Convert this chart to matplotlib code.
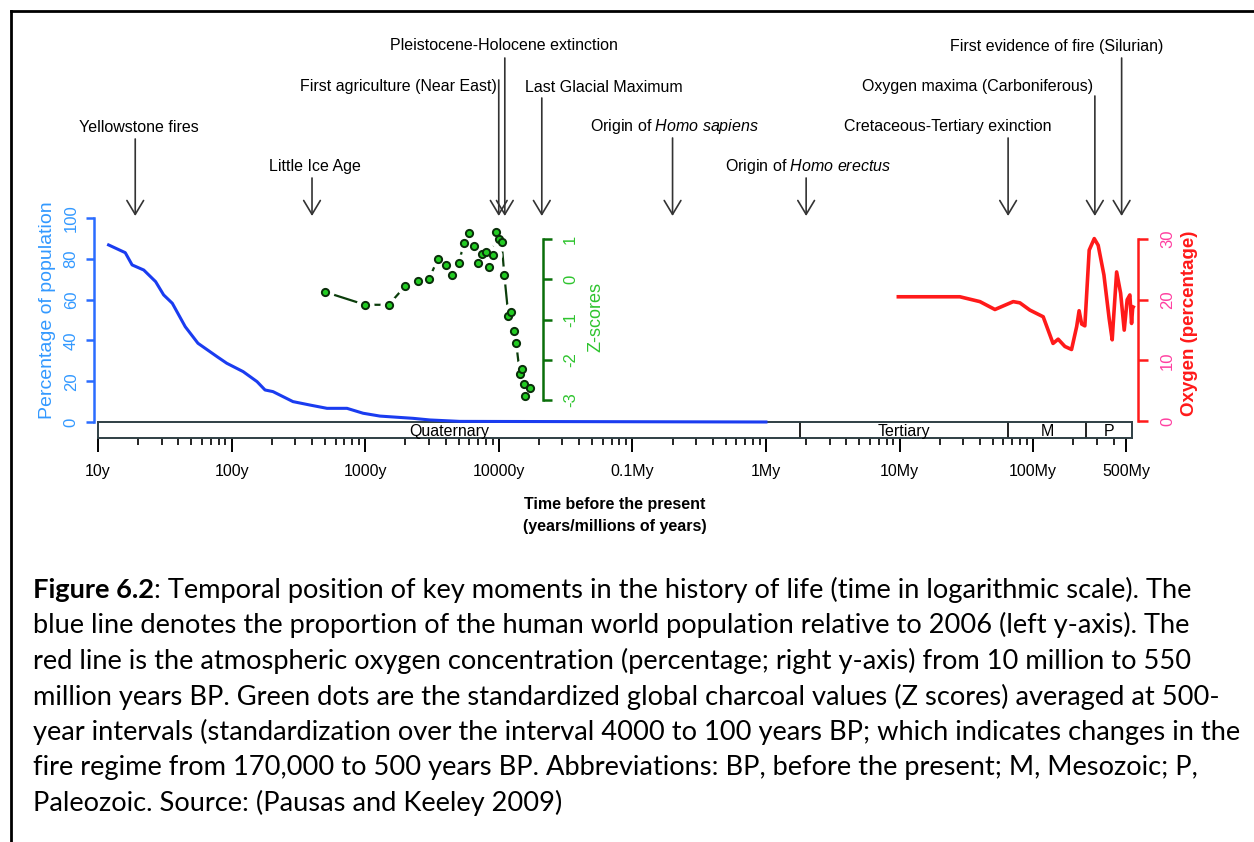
import numpy as np
import matplotlib
matplotlib.use('Agg')
import matplotlib.pyplot as plt
from matplotlib.lines import Line2D
from matplotlib.ticker import FixedLocator, NullFormatter

plt.rcParams['font.family'] = ['Liberation Sans', 'DejaVu Sans']
plt.rcParams['mathtext.fontset'] = 'custom'
plt.rcParams['mathtext.rm'] = 'Liberation Sans'
plt.rcParams['mathtext.it'] = 'Liberation Sans:italic'
plt.rcParams['mathtext.bf'] = 'Liberation Sans:bold'
plt.rcParams['axes.unicode_minus'] = False

# ---------------- data ----------------
pop_years = [12, 16, 18, 22, 27, 31, 36, 45, 56, 78, 92, 122, 155, 178, 204,
             288, 387, 518, 731, 964, 1290, 2280, 3050, 5100, 1e6]
pop_pct = [86.8, 83, 77, 74.5, 68.8, 62.3, 58.2, 46.7, 38.6, 32, 28.8, 24.7,
           19.8, 15.7, 14.9, 10, 8.3, 6.7, 6.7, 4.3, 2.9, 1.8, 1.0, 0.3, 0]

char_years = [500, 1000, 1500, 2000, 2500, 3000, 3500, 4000, 4500, 5000, 5500,
              6000, 6500, 7000, 7500, 8000, 8500, 9000, 9500, 10000, 10500,
              11000, 11800, 12300, 13000, 13500, 14400, 14800, 15500, 15700, 17100]
char_z = [-0.31, -0.63, -0.63, -0.16, -0.03, 0.01, 0.51, 0.35, 0.12, 0.40, 0.90,
          1.15, 0.84, 0.40, 0.63, 0.69, 0.32, 0.61, 1.18, 1.01, 0.93,
          0.12, -0.90, -0.82, -1.28, -1.58, -2.36, -2.24, -2.61, -2.90, -2.69]

ox_my = [9.8, 28.3, 40, 51.8, 71, 79.6, 94.6, 119, 141, 154, 173, 194, 212, 221,
         231, 244, 263, 287, 307, 339, 371, 391, 398, 422, 452, 481, 506, 530,
         546, 556, 562]
ox_pct = [20.5, 20.5, 19.7, 18.4, 19.7, 19.5, 18.3, 17.2, 12.8, 13.5, 12.3, 11.8,
          15.6, 18.2, 16.0, 15.7, 28.2, 30.1, 29.0, 24.1, 16.9, 13.4, 16.1, 24.6,
          21.1, 15.0, 20.0, 20.8, 16.1, 18.6, 18.8]

ev_names = ["Yellowstone fires", "Little Ice Age", "First agriculture (Near East)",
            "Pleistocene-Holocene extinction", "Last Glacial Maximum",
            "Origin of $\\it{Homo\\ sapiens}$", "Origin of $\\it{Homo\\ erectus}$",
            "Cretaceous-Tertiary exinction", "Oxygen maxima (Carboniferous)",
            "First evidence of fire (Silurian)"]
ev_years = [19, 400, 10000, 11100, 21000, 2e5, 2e6, 65e6, 290e6, 460e6]

period_names = ["Quaternary", "Tertiary", "M", "P"]
period_bounds = [10, 1.8e6, 65e6, 251e6, 550e6]

xtick_vals = [1e1, 1e2, 1e3, 1e4, 1e5, 1e6, 1e7, 1e8, 5e8]
xtick_labels = ["10y", "100y", "1000y", "10000y", "0.1My", "1My", "10My", "100My", "500My"]
pop_ticks = [0, 20, 40, 60, 80, 100]
z_ticks = [-3, -2, -1, 0, 1]
ox_ticks = [0, 10, 20, 30]

caption_bold = "Figure 6.2"
caption_lines = [
    ": Temporal position of key moments in the history of life (time in logarithmic scale). The",
    "blue line denotes the proportion of the human world population relative to 2006 (left y-axis). The",
    "red line is the atmospheric oxygen concentration (percentage; right y-axis) from 10 million to 550",
    "million years BP. Green dots are the standardized global charcoal values (Z scores) averaged at 500-",
    "year intervals (standardization over the interval 4000 to 100 years BP; which indicates changes in the",
    "fire regime from 170,000 to 500 years BP. Abbreviations: BP, before the present; M, Mesozoic; P,",
    "Paleozoic. Source: (Pausas and Keeley 2009)",
]

# ---------------- layout ----------------
W, H = 1254, 842
fig = plt.figure(figsize=(W / 100, H / 100), dpi=100)
fig.patch.set_facecolor('white')


def fx(x):
    return x / W


def fy(y):
    return 1 - y / H


X0, X1 = 98, 1132
XLIM = (10, 5.5e8)
BLUE_LINE = '#1a3cf0'
BLUE_AX = '#2a6cff'
BLUE_TXT = '#3399ff'
GREEN_AX = '#0a6e0a'
GREEN_TXT = '#2ec42e'
RED = '#ff1a1a'
PINK = '#ff3fa0'

ax = fig.add_axes([fx(X0), fy(422), (X1 - X0) / W, (422 - 218) / H])
ax.set_xscale('log')
ax.set_xlim(XLIM)
ax.set_ylim(0, 100)
ax.patch.set_visible(False)
for s in ['top', 'right', 'bottom']:
    ax.spines[s].set_visible(False)
ax.spines['left'].set_position(('axes', (94 - X0) / (X1 - X0)))
ax.spines['left'].set_color(BLUE_AX)
ax.spines['left'].set_linewidth(1.8)
ax.set_yticks(pop_ticks)
ax.tick_params(axis='y', color=BLUE_AX, labelcolor=BLUE_TXT, length=6, width=1.8,
               pad=5, labelsize=12, labelrotation=90)
for lab in ax.get_yticklabels():
    lab.set_va('center')
ax.tick_params(axis='x', which='both', bottom=False, labelbottom=False)
ax.plot(pop_years, pop_pct, color=BLUE_LINE, lw=2.2, clip_on=False, zorder=5)

# Z-score axis
az = ax.twinx()
az.set_ylim(-3.547, 1.530)
az.patch.set_visible(False)
for s in ['top', 'left', 'bottom']:
    az.spines[s].set_visible(False)
az.spines['right'].set_position(('axes', (543 - X0) / (X1 - X0)))
az.spines['right'].set_bounds(-3, 1)
az.spines['right'].set_color(GREEN_AX)
az.spines['right'].set_linewidth(1.8)
az.set_yticks(z_ticks)
az.tick_params(axis='y', color=GREEN_AX, labelcolor=GREEN_TXT, length=6.5, width=1.8,
               pad=8, labelsize=12, labelrotation=90)
for lab in az.get_yticklabels():
    lab.set_va('center')
az.plot(char_years, char_z, color='#0b3d0b', lw=1.6, zorder=1, clip_on=False)
az.plot(char_years, char_z, ls='none', marker='o', ms=13, mfc='white', mec='none',
        zorder=2, clip_on=False)
az.plot(char_years, char_z, ls='none', marker='o', ms=5.2, mfc='#22cc22', mec='#0a2e0a',
        mew=1.4, zorder=3, clip_on=False)

# Oxygen axis
ao = ax.twinx()
ao.set_ylim(-0.165, 33.5)
ao.patch.set_visible(False)
for s in ['top', 'left', 'bottom']:
    ao.spines[s].set_visible(False)
ao.spines['right'].set_position(('axes', (1138 - X0) / (X1 - X0)))
ao.spines['right'].set_bounds(0, 30)
ao.spines['right'].set_color(RED)
ao.spines['right'].set_linewidth(1.8)
ao.set_yticks(ox_ticks)
ao.tick_params(axis='y', color=RED, labelcolor=PINK, length=7, width=1.8,
               pad=9, labelsize=12, labelrotation=90)
for lab in ao.get_yticklabels():
    lab.set_va('center')
ao.plot([v * 1e6 for v in ox_my], ox_pct, color=RED, lw=2.6, clip_on=False,
        solid_joinstyle='round')

# Period bar with time axis
ab = fig.add_axes([fx(X0), fy(438), (X1 - X0) / W, 16 / H])
ab.set_xscale('log')
ab.set_xlim(XLIM)
ab.set_ylim(0, 1)
ab.set_yticks([])
for s in ab.spines.values():
    s.set_color('#2f3f44')
    s.set_linewidth(1.4)
for b in period_bounds[1:-1]:
    ab.axvline(b, color='#222222', lw=1.4)
for name, lo, hi in zip(period_names, period_bounds[:-1], period_bounds[1:]):
    ab.text(np.sqrt(lo * hi), 0.42, name, ha='center', va='center', fontsize=11.5)
ab.set_xticks(xtick_vals, labels=xtick_labels)
minor_vals = [k * 10 ** d for d in range(1, 9) for k in range(2, 10) if k * 10 ** d < 5e8]
ab.xaxis.set_minor_locator(FixedLocator(minor_vals))
ab.xaxis.set_minor_formatter(NullFormatter())
ab.tick_params(axis='x', which='major', length=10, width=1.4, pad=9, labelsize=11.5)
ab.tick_params(axis='x', which='minor', length=5, width=1.2)

ab.set_zorder(0)
ax.set_zorder(2)
az.set_zorder(3)
ao.set_zorder(4)

# Axis labels
fig.text(fx(48), fy(310), "Percentage of population", rotation=90, ha='center',
         va='center', color=BLUE_TXT, fontsize=14)
fig.text(fx(596), fy(317), "Z-scores", rotation=90, ha='center', va='center',
         color=GREEN_TXT, fontsize=13)
fig.text(fx(1190), fy(323), "Oxygen (percentage)", rotation=90, ha='center',
         va='center', color=RED, fontsize=13.5, fontweight='bold')
fig.text(fx(615), fy(505), "Time before the present", ha='center', va='center',
         fontsize=11.5, fontweight='bold')
fig.text(fx(615), fy(527), "(years/millions of years)", ha='center', va='center',
         fontsize=11.5, fontweight='bold')

# Event annotations (text position px, alignment, arrow start px)
label_pos = [(139, 128, 'center'), (315, 166, 'center'), (497, 87, 'right'),
             (504, 46, 'center'), (525, 87, 'left'), (674, 127, 'center'),
             (808, 166, 'center'), (948, 127, 'center'), (1093, 87, 'right'),
             (1163, 46, 'right')]
arrow_start = [139, 178, 80, 58, 98, 138, 178, 138, 96, 58]
for name, t, (tx, ty, ha), y0 in zip(ev_names, ev_years, label_pos, arrow_start):
    fig.text(fx(tx), fy(ty), name, ha=ha, va='center', fontsize=11.5)
    ax.annotate('', xy=(t, H - 216), xycoords=('data', 'figure pixels'),
                xytext=(t, H - y0), textcoords=('data', 'figure pixels'),
                arrowprops=dict(arrowstyle='->,head_length=0.5,head_width=0.3',
                                color='#333333', lw=1.2, shrinkA=0, shrinkB=0,
                                mutation_scale=20),
                annotation_clip=False)

# Border lines
fig.add_artist(Line2D([fx(11), fx(11)], [0, fy(11)], color='black', lw=2))
fig.add_artist(Line2D([fx(11), 1], [fy(11), fy(11)], color='black', lw=2))

# Caption (fit to width)
cap_family = ['Lato', 'DejaVu Sans']
r = fig.canvas.get_renderer()
fs0 = 18
tb = fig.text(0, 0, caption_bold, fontsize=fs0, fontweight='bold', family=cap_family)
tr = fig.text(0, 0, caption_lines[0], fontsize=fs0, family=cap_family)
w0 = tb.get_window_extent(renderer=r).width + tr.get_window_extent(renderer=r).width
tb.remove()
tr.remove()
cx0 = 33
fs = fs0 * (1193 - cx0) / w0
for i, line in enumerate(caption_lines):
    yb = 598 + 35.5 * i
    if i == 0:
        tb = fig.text(fx(cx0), fy(yb), caption_bold, fontsize=fs, fontweight='bold',
                      family=cap_family, va='baseline')
        wb = tb.get_window_extent(renderer=r).width
        fig.text(fx(cx0 + wb), fy(yb), line, fontsize=fs, family=cap_family,
                 va='baseline')
    else:
        fig.text(fx(cx0), fy(yb), line, fontsize=fs, family=cap_family, va='baseline')

fig.savefig('out.png', dpi=100, facecolor='white')
